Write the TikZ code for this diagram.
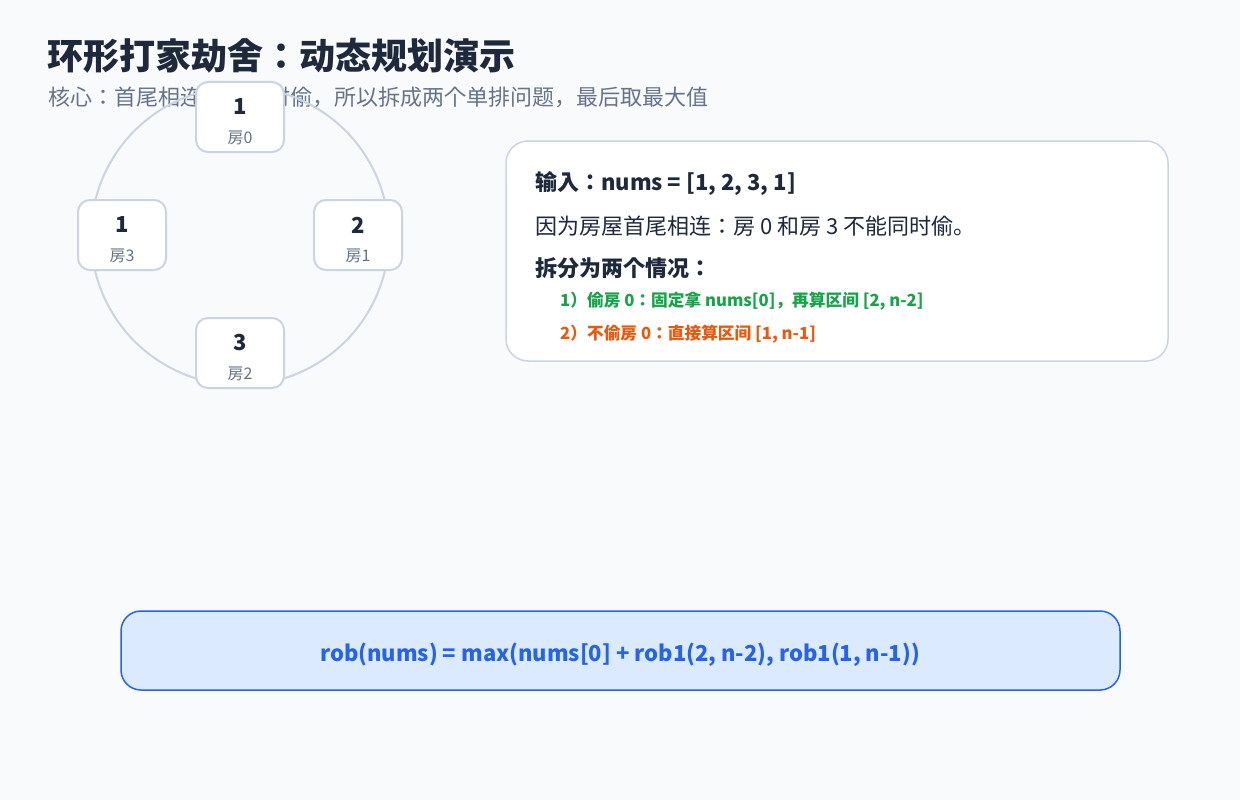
\documentclass[tikz,border=0pt]{standalone}
\usepackage{fontspec}
\setmainfont{Noto Sans CJK JP}
\usetikzlibrary{calc}
\definecolor{bgc}{HTML}{F8FAFC}
\definecolor{ink}{HTML}{1E293B}
\definecolor{muted}{HTML}{64748B}
\definecolor{edge}{HTML}{CBD5E1}
\definecolor{okgreen}{HTML}{16A34A}
\definecolor{warnorange}{HTML}{EA580C}
\definecolor{blueline}{HTML}{2563EB}
\definecolor{bluefill}{HTML}{DBEAFE}
\newcommand{\pxsize}[1]{\fontsize{#1}{#1}\selectfont}
\begin{document}
\begin{tikzpicture}[x=1pt,y=-1pt,
		house/.style={draw=edge,fill=white,line width=2pt,rounded corners=12pt,minimum width=88pt,minimum height=70pt,inner sep=0pt},
		housenum/.style={text=ink,font=\pxsize{22}\bfseries,inner sep=0pt},
		houselab/.style={text=muted,font=\pxsize{16},inner sep=0pt},
		line/.style={anchor=west,inner sep=0pt,text=ink}]
			\fill[bgc] (0,0) rectangle (1240,800);
			\useasboundingbox (0,0) rectangle (1240,800);
			\node[line,font=\pxsize{36}\bfseries] (title) at (47,56) {环形打家劫舍：动态规划演示};
			\node[line,text=muted,font=\pxsize{22}] (sub) at (48,97) {核心：首尾相连不能同时偷，所以拆成两个单排问题，最后取最大值};
			% the ring
			\draw[edge,line width=2pt] (240,236) circle (149);
			\node[house] (h0) at (240,117) {};
			\node[house] (h1) at (358,235) {};
			\node[house] (h2) at (240,353) {};
			\node[house] (h3) at (122,235) {};
			\node[housenum] (n0) at ($(h0)+(0,-10)$) {1};
			\node[houselab] (l0) at ($(h0)+(0,21)$) {房0};
			\node[housenum] (n1) at ($(h1)+(0,-10)$) {2};
			\node[houselab] (l1) at ($(h1)+(0,21)$) {房1};
			\node[housenum] (n2) at ($(h2)+(0,-10)$) {3};
			\node[houselab] (l2) at ($(h2)+(0,21)$) {房2};
			\node[housenum] (n3) at ($(h3)+(0,-10)$) {1};
			\node[houselab] (l3) at ($(h3)+(0,21)$) {房3};
			% explanation
			\node[draw=edge,fill=white,line width=1.5pt,rounded corners=22pt,minimum width=662pt,minimum height=220pt] (info) at (837,251) {};
			\node[line,font=\pxsize{22}\bfseries] (in) at (535,183) {输入：nums = [1, 2, 3, 1]};
			\node[line,font=\pxsize{22}] (why) at (535,226) {因为房屋首尾相连：房 0 和房 3 不能同时偷。};
			\node[line,font=\pxsize{22}\bfseries] (split) at (535,268) {拆分为两个情况：};
			\node[line,text=okgreen,font=\pxsize{16.7}\bfseries] (c1) at (560,301) {1）偷房 0：固定拿 nums[0]，再算区间 [2, n-2]};
			\node[line,text=warnorange,font=\pxsize{16.7}\bfseries] (c2) at (560,334) {2）不偷房 0：直接算区间 [1, n-1]};
			% formula
			\node[draw=blueline,fill=bluefill,line width=1.5pt,rounded corners=20pt,minimum width=999pt,minimum height=79pt] (robbox) at (620.5,650.5) {};
			\node[text=blueline,font=\pxsize{22}\bfseries,inner sep=0pt] (rob) at (620,655) {rob(nums) = max(nums[0] + rob1(2, n-2), rob1(1, n-1))};
\end{tikzpicture}
\end{document}
